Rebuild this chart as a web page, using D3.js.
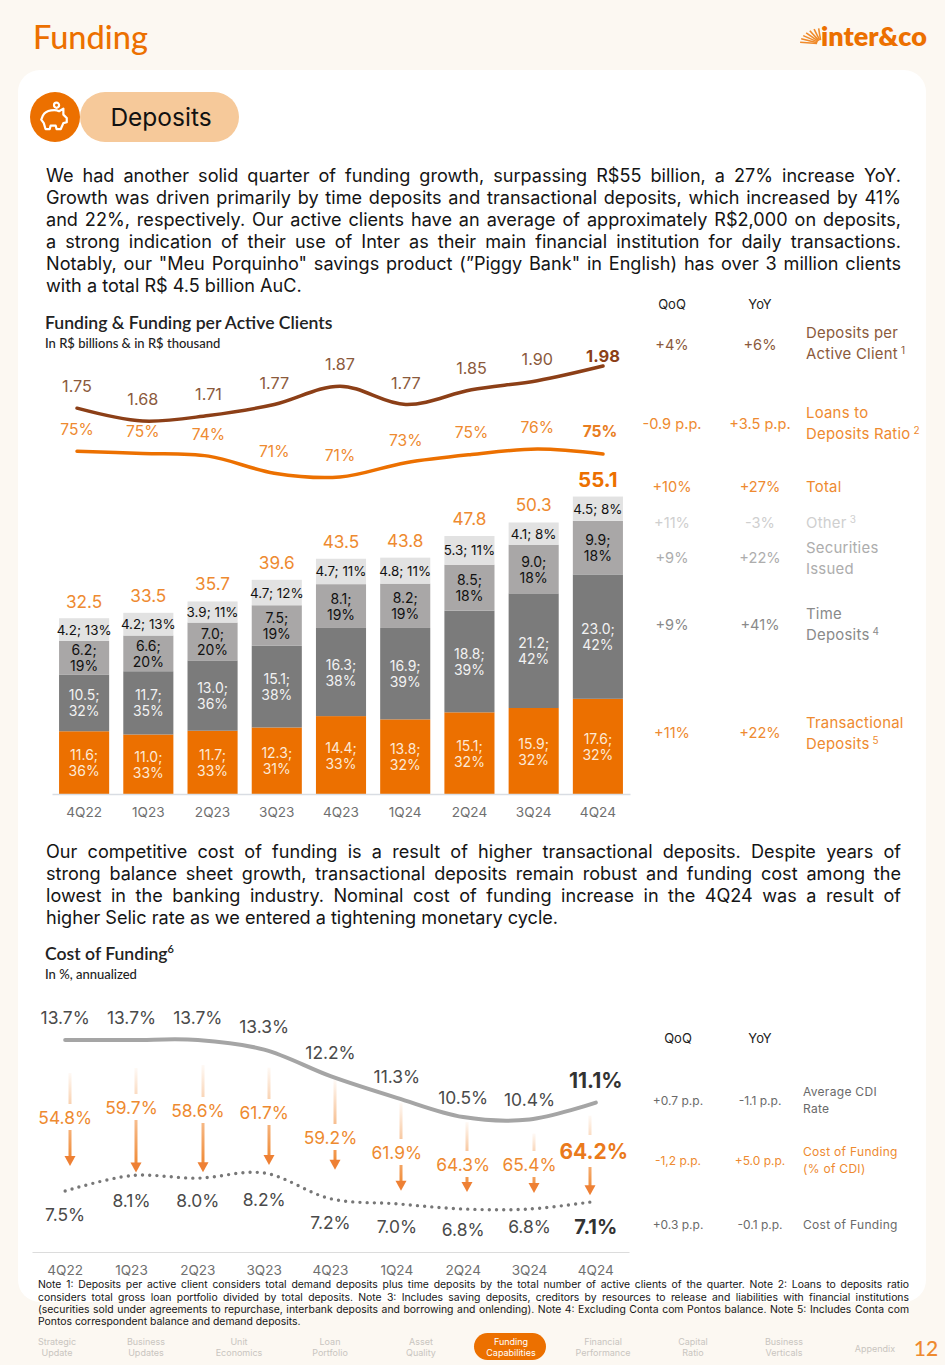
<!DOCTYPE html>
<html><head><meta charset="utf-8">
<script src="https://cdn.jsdelivr.net/npm/d3@7/dist/d3.min.js"></script>
<style>
html,body{margin:0;padding:0;background:#fcf8f2;width:945px;height:1365px;overflow:hidden}
#wrap{position:relative;width:945px;height:1365px}
svg{position:absolute;left:0;top:0}
.ln{position:absolute;white-space:nowrap;font-family:Inter,sans-serif;color:#1c1c1c}
.just{text-align:justify;text-align-last:justify;white-space:normal}
text{font-family:Inter,sans-serif}
</style></head><body><div id="wrap"></div>
<script>
// ---------- data ----------
const quarters=["4Q22","1Q23","2Q23","3Q23","4Q23","1Q24","2Q24","3Q24","4Q24"];
const transactional=[11.6,11.0,11.7,12.3,14.4,13.8,15.1,15.9,17.6];
const timeDeposits=[10.5,11.7,13.0,15.1,16.3,16.9,18.8,21.2,23.0];
const securities=[6.2,6.6,7.0,7.5,8.1,8.2,8.5,9.0,9.9];
const other=[4.2,4.2,3.9,4.7,4.7,4.8,5.3,4.1,4.5];
const transactionalPct=[36,33,33,31,33,32,32,32,32];
const timePct=[32,35,36,38,38,39,39,42,42];
const securitiesPct=[19,20,20,19,19,19,18,18,18];
const otherPct=[13,13,11,12,11,11,11,8,8];
const totals=[32.5,33.5,35.7,39.6,43.5,43.8,47.8,50.3,55.1];
const perClient=[1.75,1.68,1.71,1.77,1.87,1.77,1.85,1.90,1.98];
const loansToDeposits=[75.3,74.9,74.4,71.3,70.6,73.2,74.7,75.7,74.8];
const cdiRate=[13.7,13.7,13.7,13.3,12.2,11.3,10.5,10.4,11.1];
const costOfFunding=[7.5,8.1,8.0,8.2,7.2,7.0,6.8,6.8,7.1];
const pctOfCdi=[54.8,59.7,58.6,61.7,59.2,61.9,64.3,65.4,64.2];
const table1Rows=[["+4%","+6%"],["-0.9 p.p.","+3.5 p.p."],["+10%","+27%"],["+11%","-3%"],["+9%","+22%"],["+9%","+41%"],["+11%","+22%"]];
const table2Rows=[["+0.7 p.p.","-1.1 p.p."],["-1,2 p.p.","+5.0 p.p."],["+0.3 p.p.","-0.1 p.p."]];
const navItems=[["Strategic","Update"],["Business","Updates"],["Unit","Economics"],["Loan","Portfolio"],["Asset","Quality"],["Funding","Capabilities"],["Financial","Performance"],["Capital","Ratio"],["Business","Verticals"],["Appendix"]];
const para1=["We had another solid quarter of funding growth, surpassing R$55 billion, a 27% increase YoY.","Growth was driven primarily by time deposits and transactional deposits, which increased by 41%","and 22%, respectively. Our active clients have an average of approximately R$2,000 on deposits,","a strong indication of their use of Inter as their main financial institution for daily transactions.","Notably, our \"Meu Porquinho\" savings product (”Piggy Bank\" in English) has over 3 million clients","with a total R$ 4.5 billion AuC."];
const para2=["Our competitive cost of funding is a result of higher transactional deposits. Despite years of","strong balance sheet growth, transactional deposits remain robust and funding cost among the","lowest in the banking industry. Nominal cost of funding increase in the 4Q24 was a result of","higher Selic rate as we entered a tightening monetary cycle."];
const notes=["Note 1: Deposits per active client considers total demand deposits plus time deposits by the total number of active clients of the quarter. Note 2: Loans to deposits ratio","considers total gross loan portfolio divided by total deposits. Note 3: Includes saving deposits, creditors by resources to release and liabilities with financial institutions","(securities sold under agreements to repurchase, interbank deposits and borrowing and onlending). Note 4: Excluding Conta com Pontos balance. Note 5: Includes Conta com","Pontos correspondent balance and demand deposits."];

// ---------- layout (not data) ----------
const C={orange:"#ec7000",orangeTxt:"#ee8a30",brown:"#8c3f17",brownTxt:"#8b5a3c",dark:"#7b7b7b",mid:"#a9a7a7",light:"#e2e2e2"};
const arrowStemTopOffset=[33,28,25,18,4,5,5,14,13];
const arrowTipOffset=[25,3,6,8,29,13,17,16,6];
const arrowLabelY=[1117,1107,1110,1112,1137,1152,1164,1164,1151];
const arrowX=[70,136,203,269,335,401,467,534,590];
const W=945,H=1365;
const wrap=d3.select("#wrap");
const svg=wrap.append("svg").attr("width",W).attr("height",H);
const defs=svg.append("defs");

function T(x,y,s,o={}){
  const t=svg.append("text").attr("x",x).attr("y",y).text(s)
   .attr("text-anchor",o.a||"middle").attr("dominant-baseline","central")
   .attr("font-size",o.fs||14).attr("fill",o.c||"#333").attr("font-weight",o.w||400);
  if(o.f)t.style("font-family",o.f);
  if(o.ls)t.attr("letter-spacing",o.ls);
  return t;
}
// page
svg.append("rect").attr("x",18).attr("y",70).attr("width",908).attr("height",1232).attr("rx",22).attr("fill","#fff");
T(33,36,"Funding",{a:"start",fs:32.5,c:C.orange,w:500,f:"Lato"});
// logo
const sun=svg.append("g").attr("transform","translate(821,44)");
d3.range(7).forEach(i=>{const a=Math.PI*(1-(i+.5)/14);sun.append("line").attr("x1",Math.cos(a)*4).attr("y1",-Math.sin(a)*4).attr("x2",Math.cos(a)*21).attr("y2",-Math.sin(a)*21*0.75).attr("stroke","#f08a2a").attr("stroke-width",1.6);});
T(821,35,"inter&co",{a:"start",fs:27,c:C.orange,w:800,f:"Lato"});
// pill
svg.append("rect").attr("x",80).attr("y",92).attr("width",159).attr("height",50).attr("rx",25).attr("fill","#f6c99a");
svg.append("circle").attr("cx",55).attr("cy",117).attr("r",25).attr("fill",C.orange);
const pig=svg.append("g").attr("transform","translate(54,118) scale(0.85)").attr("fill","none").attr("stroke","#fff").attr("stroke-width",2.6).attr("stroke-linejoin","round");
pig.append("path").attr("d","M-13,-3 C-9,-10 2,-10 6,-8 L11,-11 L11,-4 L15,0 L15,5 L11,6 L8,13 L3,13 L2,9 L-4,9 L-5,13 L-10,13 L-12,6 L-15,2 Z");
pig.append("circle").attr("cx",3).attr("cy",-15).attr("r",3);
T(161,117,"Deposits",{fs:24.5,c:"#111",f:"Inter"});

function lines(arr,top,lh,fs,x,w,color){
  arr.forEach((s,i)=>{
    const last=i===arr.length-1;
    wrap.append("div").attr("class","ln"+(last?"":" just"))
      .style("left",x+"px").style("top",(top+i*lh-lh/2)+"px").style("width",w+"px")
      .style("line-height",lh+"px").style("height",lh+"px").style("overflow","hidden")
      .style("font-size",fs+"px").style("color",color||"#141414").text(s);
  });
}
lines(para1,175,22,18.1,46,855);
lines(para2,851,22,18.1,46,855);
lines(notes,1285.5,12.2,10.4,38,871);

// section titles
T(45,322.5,"Funding & Funding per Active Clients",{a:"start",fs:17.6,c:"#222",w:600,f:"Lato"});
T(45,343,"In R$ billions & in R$ thousand",{a:"start",fs:13,c:"#222",w:500,f:"Lato"});
const cft=T(45,953,"Cost of Funding",{a:"start",fs:17.6,c:"#222",w:600,f:"Lato"});
cft.append("tspan").text("6").attr("font-size",11).attr("dy",-5);
T(45,974,"In %, annualized",{a:"start",fs:13,c:"#222",w:500,f:"Lato"});

// ---------- chart 1: stacked bars ----------
const x1=d3.scaleBand().domain(quarters).range([52,630]).paddingInner(0.22).paddingOuter(0.11);
const y1=d3.scaleLinear().domain([0,55.1]).range([794,496]);
const rows=quarters.map((q,i)=>({q,transactional:transactional[i],time:timeDeposits[i],securities:securities[i],other:other[i]}));
const keys=["transactional","time","securities","other"];
const pcts={transactional:transactionalPct,time:timePct,securities:securitiesPct,other:otherPct};
const fills={transactional:C.orange,time:C.dark,securities:C.mid,other:C.light};
const txt={transactional:"#fde9d6",time:"#f2f2f2",securities:"#111",other:"#111"};
const stacked=d3.stack().keys(keys)(rows);
const g1=svg.append("g");
stacked.forEach(s=>{
  g1.selectAll(null).data(s).join("rect").attr("x",d=>x1(d.data.q)).attr("width",x1.bandwidth())
    .attr("y",d=>y1(d[1])).attr("height",d=>y1(d[0])-y1(d[1])).attr("fill",fills[s.key]);
});
stacked.forEach(s=>{
  s.forEach((d,i)=>{
    const cx=x1(d.data.q)+x1.bandwidth()/2, cy=(y1(d[0])+y1(d[1]))/2, v=d.data[s.key].toFixed(1);
    if(s.key==="other"){ T(cx,cy,`${v}; ${pcts.other[i]}%`,{fs:13.4,c:txt.other}); }
    else{
      T(cx,cy-8,`${v};`,{fs:14,c:txt[s.key]});
      T(cx,cy+8,`${pcts[s.key][i]}%`,{fs:14,c:txt[s.key]});
    }
  });
});
totals.forEach((v,i)=>{
  const last=i===totals.length-1;
  T(x1(quarters[i])+x1.bandwidth()/2,y1(v)-17,v.toFixed(1),{fs:last?20.5:17.2,c:last?C.orange:C.orangeTxt,w:last?700:400});
});
const ax1=svg.append("g").attr("transform","translate(0,794)").call(d3.axisBottom(x1).tickSize(0).tickPadding(13));
ax1.select(".domain").attr("stroke","#d9dde3").attr("stroke-width",1.5);
ax1.selectAll("text").attr("font-size",13.6).attr("fill","#6f6f6f").style("font-family","Inter");

// lines of chart 1
const xp1=d3.scalePoint().domain(quarters).range([77,603]);
const yClient=d3.scaleLinear().domain([1.68,1.98]).range([421,366]);
const yLoans=d3.scaleLinear().domain([70.6,75.7]).range([477,449]);
const lineClient=d3.line().x((d,i)=>xp1(quarters[i])).y(d=>yClient(d)).curve(d3.curveCatmullRom.alpha(0.5));
const lineLoans=d3.line().x((d,i)=>xp1(quarters[i])).y(d=>yLoans(d)).curve(d3.curveCatmullRom.alpha(0.5));
svg.append("path").attr("d",lineClient(perClient)).attr("fill","none").attr("stroke",C.brown).attr("stroke-width",3.5).attr("stroke-linecap","round");
svg.append("path").attr("d",lineLoans(loansToDeposits)).attr("fill","none").attr("stroke",C.orange).attr("stroke-width",3.5).attr("stroke-linecap","round");
perClient.forEach((v,i)=>{const last=i===8;
  T(xp1(quarters[i]),yClient(v)-(last?10:22),v.toFixed(2),{fs:last?16.5:16.2,c:last?C.brown:C.brownTxt,w:last?700:400});});
loansToDeposits.forEach((v,i)=>{const last=i===8;
  T(xp1(quarters[i])-(last?3:0),yLoans(v)-22,Math.round(v)+"%",{fs:15.6,c:last?"#e87d1e":C.orangeTxt,w:last?700:400});});

// table 1
const qx=672,yx=760,lx=806;
T(qx,304,"QoQ",{fs:13,c:"#222"});T(yx,304,"YoY",{fs:13,c:"#222"});
const t1Y=[345,424,487,523,558,625,733];
const t1LabelY=[[333,354],[413,434],[487],[523],[548,569],[614,635],[723,744]];
const t1C=[C.brownTxt,C.orangeTxt,C.orangeTxt,"#cfcfcf","#adadad","#8a8a8a",C.orangeTxt];
const t1L=[["Deposits per","Active Client"],["Loans to","Deposits Ratio"],["Total"],["Other"],["Securities","Issued"],["Time","Deposits"],["Transactional","Deposits"]];
const t1S=["1","2","","3","","4","5"];
table1Rows.forEach((r,i)=>{
  T(qx,t1Y[i],r[0],{fs:14.6,c:t1C[i]});T(yx,t1Y[i],r[1],{fs:14.6,c:t1C[i]});
  t1L[i].forEach((l,j)=>{
    const n=t1L[i].length;
    const t=T(lx,t1LabelY[i][j],l,{a:"start",fs:14.9,c:t1C[i],ls:0.25});
    if(j===n-1&&t1S[i]) t.append("tspan").text(" "+t1S[i]).attr("font-size",10).attr("dy",-4);
  });
});

// ---------- chart 2 ----------
const x2=d3.scaleBand().domain(quarters).range([32,629]);
const cx2=q=>x2(q)+x2.bandwidth()/2;
const yCdi=d3.scaleLinear().domain([10.4,13.7]).range([1119.5,1040]);
const yCost=d3.scaleLinear().domain([6.8,8.2]).range([1209,1173]);
const ax2=svg.append("g").attr("transform","translate(0,1252)").call(d3.axisBottom(x2).tickSize(0).tickPadding(13));
ax2.select(".domain").attr("stroke","#dcdcdc").attr("stroke-width",1.2);
ax2.selectAll("text").attr("font-size",13.6).attr("fill","#6f6f6f").style("font-family","Inter");
svg.append("path").attr("d",d3.line().x((d,i)=>cx2(quarters[i])).y(d=>yCdi(d)).curve(d3.curveCatmullRom.alpha(0.5))(cdiRate))
  .attr("fill","none").attr("stroke","#a5a5a5").attr("stroke-width",4).attr("stroke-linecap","round");
svg.append("path").attr("d",d3.line().x((d,i)=>cx2(quarters[i])).y(d=>yCost(d)).curve(d3.curveCatmullRom.alpha(0.5))(costOfFunding))
  .attr("fill","none").attr("stroke","#777").attr("stroke-width",3.4).attr("stroke-linecap","round").attr("stroke-dasharray","0 7.2");
const cdiOff=[23,23,23,23,24,21,20,20,22], costOff=[23,25,22,26,24,23,20,17,26];
cdiRate.forEach((v,i)=>{const last=i===8;
  T(cx2(quarters[i]),yCdi(v)-cdiOff[i],v.toFixed(1)+"%",{fs:last?21:17.4,c:last?"#333":"#4a4a4a",w:last?700:400});});
costOfFunding.forEach((v,i)=>{const last=i===8;
  T(cx2(quarters[i]),yCost(v)+costOff[i],v.toFixed(1)+"%",{fs:last?20:17.4,c:last?"#333":"#4a4a4a",w:last?700:400});});
pctOfCdi.forEach((v,i)=>{
  const ax=arrowX[i], top=yCdi(cdiRate[i])+arrowStemTopOffset[i], tip=yCost(costOfFunding[i])-arrowTipOffset[i], ly=arrowLabelY[i], last=i===8;
  const hg=last?16:13;
  const gid="st"+i;
  const gg=defs.append("linearGradient").attr("id",gid).attr("gradientUnits","userSpaceOnUse").attr("x1",0).attr("x2",0).attr("y1",top).attr("y2",tip);
  gg.append("stop").attr("offset",0).attr("stop-color","#ee7a1a").attr("stop-opacity",0.04);
  gg.append("stop").attr("offset",1).attr("stop-color","#ee7a1a").attr("stop-opacity",0.95);
  if(ly-hg>top) svg.append("rect").attr("x",ax-1.5).attr("width",3).attr("y",top).attr("height",ly-hg-top).attr("fill",`url(#${gid})`);
  svg.append("rect").attr("x",ax-1.5).attr("width",3).attr("y",ly+hg).attr("height",Math.max(0,tip-8-ly-hg)).attr("fill",`url(#${gid})`);
  svg.append("path").attr("d",`M${ax-5.5},${tip-10}L${ax+5.5},${tip-10}L${ax},${tip}Z`).attr("fill","#ee8034");
  const lx2=last?cx2(quarters[i])-2:cx2(quarters[i]);
  T(lx2,ly,v.toFixed(1)+"%",{fs:last?21:17.4,c:last?"#ea7a1c":C.orangeTxt,w:last?700:400});
});

// table 2
T(678,1038,"QoQ",{fs:13,c:"#222"});T(760,1038,"YoY",{fs:13,c:"#222"});
const t2Y=[1100,1160,1224];
const t2C=["#6a6a6a",C.orangeTxt,"#6a6a6a"];
const t2L=[["Average CDI","Rate"],["Cost of Funding","(% of CDI)"],["Cost of Funding"]];
table2Rows.forEach((r,i)=>{
  T(678,t2Y[i],r[0],{fs:12,c:t2C[i]});T(760,t2Y[i],r[1],{fs:12,c:t2C[i]});
  t2L[i].forEach((l,j)=>{
    const n=t2L[i].length;
    T(803,t2Y[i]+(n===2?(j===0?-9:8.5):0),l,{a:"start",fs:12,c:t2C[i],ls:0.3});
  });
});

// ---------- nav ----------
const navX=[57,146,239,330,421,511,603,693,784,875];
svg.append("rect").attr("x",474).attr("y",1333).attr("width",72).attr("height",27).attr("rx",13.5).attr("fill",C.orange);
navItems.forEach((n,i)=>{
  const on=i===5;
  if(n.length===1) T(navX[i],1348,n[0],{fs:9,c:"#c9c5c0"});
  else n.forEach((s,j)=>T(navX[i],1341+j*11,s,{fs:9,c:on?"#fff":"#c9c5c0"}));
});
T(926,1347,"12",{fs:21,c:"#ee8a30",w:500,f:"Lato"});
</script></body></html>
